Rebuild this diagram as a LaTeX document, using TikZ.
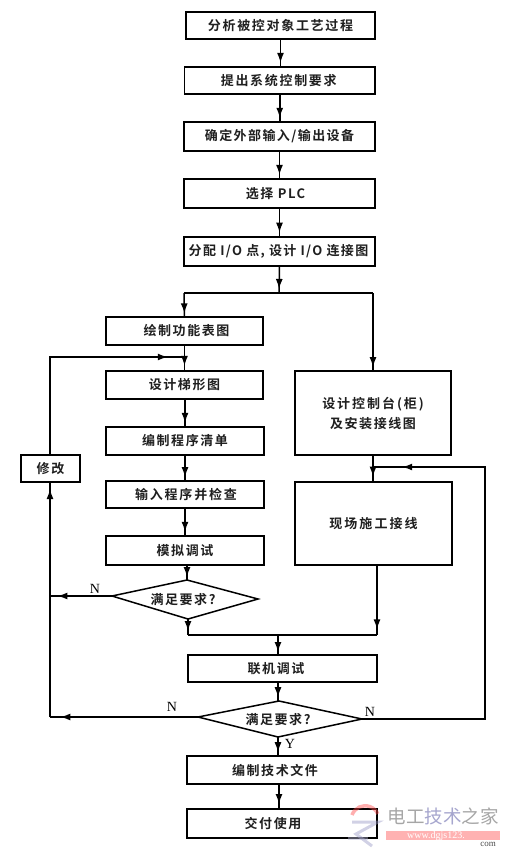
\documentclass[tikz,border=0pt]{standalone}
\usepackage{fontspec}
\setmainfont{Noto Sans CJK SC}[BoldFont={Noto Sans CJK SC Bold}]
\newfontfamily\latinf{Liberation Serif}
\usetikzlibrary{arrows.meta,decorations.markings,calc}
\tikzset{
  x=1pt,y=-1pt,
  box/.style={draw=black,line width=1.5pt,fill=white,inner sep=0pt,outer sep=0pt,font=\fontsize{13}{15}\selectfont\bfseries,align=center,text=black!88},
  conn/.style={draw=black,line width=1.5pt},
  tipat/.style={postaction={decorate},decoration={markings,mark=at position #1 with {\arrow{Latex[length=10pt,width=7pt]}}}},
  dlabel/.style={inner sep=0pt,font=\fontsize{13}{15}\selectfont\bfseries,text=black!88},
  letter/.style={inner sep=0pt,font=\latinf\fontsize{14}{15}\selectfont},
}
\newcommand{\wider}[2]{\addfontfeature{LetterSpace=#1}#2}
\begin{document}
\begin{tikzpicture}
\useasboundingbox (0,0) rectangle (505,856);
\fill[white] (0,0) rectangle (505,856);
% boxes
\node[box,minimum width=189pt,minimum height=27pt] (b1) at (280.5,25.5) {\wider{13}{分析被控对象工艺过程}};
\node[box,minimum width=190.5pt,minimum height=27pt] (b2) at (279.75,80.5) {\hspace*{-2pt}\wider{13}{提出系统控制要求}};
\node[box,minimum width=191pt,minimum height=29pt] (b3) at (279.5,136.5) {\wider{11}{确定外部输入/输出设备}};
\node[box,minimum width=191pt,minimum height=29pt] (b4) at (279.5,193.5) {\hspace*{-8pt}\wider{12}{选择 PLC}};
\node[box,minimum width=191pt,minimum height=29pt] (b5) at (279.5,251.5) {\hspace*{-2pt}\wider{10}{分配 I/O 点, 设计 I/O 连接图}};
\node[box,minimum width=157pt,minimum height=28pt] (b6) at (184.5,331) {\hspace*{4pt}\wider{12}{绘制功能表图}};
\node[box,minimum width=157pt,minimum height=28pt] (b7) at (184.5,385) {\wider{12}{设计梯形图}};
\node[box,minimum width=158pt,minimum height=28pt] (b8) at (185,441) {\wider{12}{编制程序清单}};
\node[box,minimum width=158pt,minimum height=27pt] (b9) at (185,494.5) {\hspace*{2pt}\wider{14}{输入程序并检查}};
\node[box,minimum width=158pt,minimum height=29pt] (b10) at (185,550.5) {\wider{12}{模拟调试}};
\node[box,minimum width=59pt,minimum height=27pt] (fix) at (50.5,468.5) {\wider{12}{修改}};
\node[box,minimum width=156pt,minimum height=84pt] (ctl) at (373,413) {\wider{15}{设计控制台(柜)}\\[5pt]\wider{12}{及安装接线图}};
\node[box,minimum width=157pt,minimum height=83pt] (site) at (373.5,523.5) {\wider{16}{现场施工接线}};
\node[box,minimum width=189pt,minimum height=27pt] (lj) at (282.5,668.5) {\hspace*{-13pt}\wider{12}{联机调试}};
\node[box,minimum width=190pt,minimum height=28pt] (doc) at (282,770) {\hspace*{-14pt}\wider{12}{编制技术文件}};
\node[box,minimum width=190pt,minimum height=29pt] (use) at (282,823.5) {\hspace*{-18pt}\wider{12}{交付使用}};
% decision 1
\coordinate (d1l) at (112,596);
\coordinate (d1t) at (187,580);
\coordinate (d1r) at (258,599);
\coordinate (d1b) at (188,619);
\draw[conn,line join=miter] (d1l) -- (d1t) -- (d1r) -- (d1b) -- cycle;
\node[dlabel] (d1) at (183,600) {\wider{12}{满足要求?}};
% decision 2
\coordinate (d2l) at (198,717);
\coordinate (d2t) at (279,701);
\coordinate (d2r) at (362,719);
\coordinate (d2b) at (278,737);
\draw[conn,line join=miter] (d2l) -- (d2t) -- (d2r) -- (d2b) -- cycle;
\node[dlabel] (d2) at (278,720) {\wider{12}{满足要求?}};
% routing points
\coordinate (split) at (279,293);
\coordinate (splitl) at (184,293);
\coordinate (splitr) at (373,293);
\coordinate (fbtop) at (50,357);
\coordinate (fbin) at (184,357);
\coordinate (busl) at (188,635);
\coordinate (busr) at (377,635);
\coordinate (bus) at (278,635);
\coordinate (siteout) at (377,565);
\coordinate (backr) at (485,719);
\coordinate (backt) at (485,467);
\coordinate (backin) at (373,467);
\coordinate (fbl1) at (50,596);
\coordinate (fbl2) at (50,717);
% top chain
\draw[conn,tipat=0.85] (b1.south) -- (b1.south |- b2.north);
\draw[conn,tipat=0.85] (b2.south) -- (b2.south |- b3.north);
\draw[conn,tipat=0.85] (b3.south) -- (b3.south |- b4.north);
\draw[conn,tipat=0.85] (b4.south) -- (b4.south |- b5.north);
\draw[conn,tipat=0.85] (b5.south) -- (split);
\draw[conn] (splitl) -- (splitr);
\draw[conn,tipat=0.85] (splitl) -- (b6.north);
\draw[conn,tipat=0.95] (splitr) -- (ctl.north);
% left chain
\draw[conn,tipat=0.8] (b6.south) -- (b7.north);
\draw[conn,tipat=0.85] (b8.north |- b7.south) -- (b8.north);
\draw[conn,tipat=0.85] (b9.north |- b8.south) -- (b9.north);
\draw[conn,tipat=0.85] (b10.north |- b9.south) -- (b10.north);
\draw[conn,tipat=0.8] (d1t |- b10.south) -- (d1t);
% feedback
\draw[conn,tipat=0.93] (fix.north -| fbtop) -- (fbtop) -- (fbin);
\draw[conn,tipat=0.88] (d1l) -- (fbl1);
\draw[conn,tipat=0.97] (fbl2) -- (fix.south -| fbl2);
\draw[conn,tipat=0.93] (d2l) -- (fbl2);
% join
\draw[conn,tipat=0.75] (d1b) -- (busl);
\draw[conn,tipat=0.92] (siteout) -- (busr);
\draw[conn] (busl) -- (busr);
\draw[conn,tipat=0.85] (bus) -- (bus |- lj.north);
\draw[conn,tipat=0.8] (bus |- lj.south) -- (bus |- d2t);
% right side
\draw[conn,tipat=0.8] (ctl.south) -- (site.north -| ctl.south);
\draw[conn,tipat=0.94] (d2r) -- (backr) -- (backt) -- (backin);
% bottom
\draw[conn,tipat=0.8] (d2b) -- (d2b |- doc.north);
\draw[conn,tipat=0.8] (d2t |- doc.south) -- (d2t |- use.north);
% labels
\node[letter] (n1) at (95,589) {N};
\node[letter] (n2) at (172,707) {N};
\node[letter] (n3) at (370,712) {N};
\node[letter] (y1) at (290,744) {Y};
% watermark
\begin{scope}[opacity=0.45]
\draw[line width=3.5pt,red!70] (352,815) arc[start angle=160,end angle=25,radius=14pt];
\draw[line width=3pt,blue!45!black!40] (352,822) -- (378,822) -- (356,834) -- (372,846);
\draw[line width=3pt,blue!40!black!30] (348,838) -- (368,838);
\end{scope}
\fill[red!30] (386,831) rectangle (500,840);
\node[inner sep=0pt,font=\fontsize{18.5}{19}\selectfont,text=black!35] (wm) at (443,816) {电工\textcolor{blue!45!black!35}{技术}之家};
\node[inner sep=0pt,font=\latinf\fontsize{10}{10}\selectfont,text=white] (wmurl) at (436,836) {www.dgjs123.};
\node[inner sep=0pt,font=\latinf\fontsize{9}{9}\selectfont,text=black!70] (wmcom) at (488,844) {com};
\end{tikzpicture}
\end{document}
